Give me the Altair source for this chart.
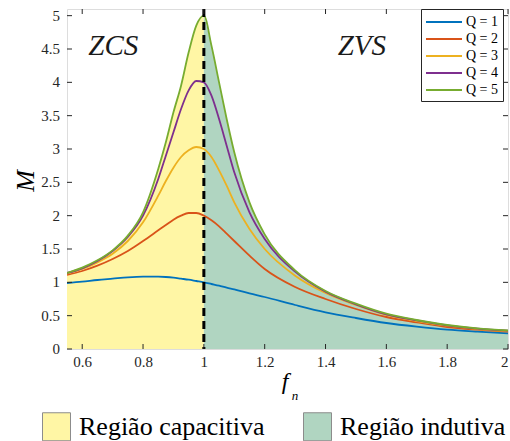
import altair as alt
import pandas as pd

# Normalised switching frequency and voltage gain read for each quality factor
fn = [0.55, 0.6, 0.65, 0.7, 0.75, 0.8, 0.85, 0.875, 0.9, 0.925, 0.95, 0.975, 1.0,
      1.025, 1.05, 1.075, 1.1, 1.15, 1.2, 1.3, 1.4, 1.5, 1.6, 1.7, 1.8, 1.9, 2.0]
m_q1 = [0.99, 1.01, 1.035, 1.055, 1.075, 1.085, 1.085, 1.08, 1.07, 1.055, 1.04, 1.02, 1.0,
        0.975, 0.95, 0.92, 0.895, 0.835, 0.78, 0.66, 0.55, 0.465, 0.39, 0.335, 0.29, 0.26, 0.235]
m_q2 = [1.11, 1.17, 1.25, 1.35, 1.47, 1.62, 1.78, 1.86, 1.94, 2.0, 2.04, 2.04, 2.0,
        1.93, 1.84, 1.73, 1.62, 1.4, 1.2, 0.93, 0.75, 0.6, 0.48, 0.4, 0.33, 0.29, 0.26]
m_q3 = [1.13, 1.2, 1.3, 1.43, 1.62, 1.9, 2.3, 2.52, 2.72, 2.88, 2.98, 3.03, 3.0,
        2.88, 2.68, 2.45, 2.2, 1.8, 1.5, 1.1, 0.84, 0.66, 0.51, 0.42, 0.35, 0.3, 0.27]
m_q4 = [1.14, 1.21, 1.32, 1.47, 1.68, 2.0, 2.55, 2.9, 3.25, 3.6, 3.88, 4.02, 4.0,
        3.8, 3.45, 3.05, 2.65, 2.05, 1.65, 1.16, 0.86, 0.67, 0.52, 0.43, 0.355, 0.305, 0.275]
m_q5 = [1.14, 1.22, 1.33, 1.48, 1.7, 2.05, 2.7, 3.1, 3.55, 3.95, 4.45, 4.85, 5.0,
        4.55, 4.0, 3.45, 2.95, 2.2, 1.72, 1.18, 0.87, 0.68, 0.53, 0.435, 0.36, 0.31, 0.28]

q_labels = ["Q = 1", "Q = 2", "Q = 3", "Q = 4", "Q = 5"]
q_colors = ["#0072BD", "#D95319", "#EDB120", "#7E2F8E", "#77AC30"]
region_labels = ["Região capacitiva", "Região indutiva"]
region_colors = ["#FFF6A5", "#B0D5C1"]
x_ticks = [0.6, 0.8, 1.0, 1.2, 1.4, 1.6, 1.8, 2.0]
y_ticks = [0, 0.5, 1, 1.5, 2, 2.5, 3, 3.5, 4, 4.5, 5]
y_tick_text = ["0", "0.5", "1", "1.5", "2", "2.5", "3", "3.5", "4", "4.5", "5"]
resonance = [1.0]

W, H = 441, 340
SERIF = "Liberation Serif"
INK = "#262626"

# Long table of the five gain curves
rows = []
for label, series in zip(q_labels, [m_q1, m_q2, m_q3, m_q4, m_q5]):
    for f, m in zip(fn, series):
        rows.append({"fn": f, "M": m, "serie": label})
curves = pd.DataFrame(rows)

# Shaded regions under the envelope (highest Q curve), split at resonance
area_rows = []
for f, m in zip(fn, m_q5):
    if f <= 1.0:
        area_rows.append({"fn": f, "M": m, "regiao": region_labels[0]})
    if f >= 1.0:
        area_rows.append({"fn": f, "M": m, "regiao": region_labels[1]})
regions = pd.DataFrame(area_rows)

x_scale = alt.Scale(domain=[0.55, 2.0], nice=False, zero=False)
y_scale = alt.Scale(domain=[0, 5.1], nice=False, zero=False)

x_axis = alt.Axis(values=x_ticks, labelExpr="'' + datum.value", title=None, grid=False,
                  domain=False, ticks=False, labelFont=SERIF, labelFontSize=15,
                  labelColor=INK, labelPadding=5, labelOverlap=False)
y_axis = alt.Axis(values=y_ticks, title=None, grid=False, domain=False, ticks=False,
                  labels=False)

area = alt.Chart(regions).mark_area(interpolate="monotone", clip=True).encode(
    x=alt.X("fn:Q", scale=x_scale, axis=x_axis),
    y=alt.Y("M:Q", scale=y_scale, axis=y_axis, stack=None),
    fill=alt.Fill("regiao:N", scale=alt.Scale(domain=region_labels, range=region_colors),
                  legend=alt.Legend(title=None, orient="none", direction="horizontal",
                                    legendX=-25, legendY=403, symbolType="square",
                                    symbolSize=784, symbolStrokeColor="#8c8c8c",
                                    symbolStrokeWidth=1, symbolOpacity=1,
                                    labelFont=SERIF, labelFontSize=26,
                                    labelColor="black", labelOffset=8, columnPadding=36,
                                    labelLimit=400, padding=0)),
)

lines = alt.Chart(curves).mark_line(interpolate="monotone", strokeWidth=1.8, clip=True).encode(
    x=alt.X("fn:Q", scale=x_scale),
    y=alt.Y("M:Q", scale=y_scale),
    color=alt.Color("serie:N", scale=alt.Scale(domain=q_labels, range=q_colors),
                    legend=alt.Legend(title=None, orient="none", legendX=354, legendY=0,
                                      symbolType="M-1,0H3.5", symbolSize=256,
                                      symbolStrokeWidth=2, labelFont=SERIF,
                                      labelFontSize=14, labelColor="black",
                                      labelOffset=23, rowPadding=1, padding=4,
                                      strokeColor=INK, fillColor="white")),
)

divider = alt.Chart(pd.DataFrame({"fn": resonance})).mark_rule(
    color="black", strokeWidth=3, strokeDash=[8, 5]
).encode(x=alt.X("fn:Q", scale=x_scale))

# Inward ticks on all four sides of the box
xt = pd.DataFrame({"fn": x_ticks})
yt = pd.DataFrame({"M": y_ticks, "txt": y_tick_text})
tick_style = dict(color=INK, strokeWidth=1)
x_ticks_bottom = alt.Chart(xt).mark_rule(**tick_style).encode(
    x=alt.X("fn:Q", scale=x_scale), y=alt.value(H), y2=alt.value(H - 5))
x_ticks_top = alt.Chart(xt).mark_rule(**tick_style).encode(
    x=alt.X("fn:Q", scale=x_scale), y=alt.value(0), y2=alt.value(5))
y_ticks_left = alt.Chart(yt).mark_rule(**tick_style).encode(
    y=alt.Y("M:Q", scale=y_scale), x=alt.value(0), x2=alt.value(5))
y_ticks_right = alt.Chart(yt).mark_rule(**tick_style).encode(
    y=alt.Y("M:Q", scale=y_scale), x=alt.value(W), x2=alt.value(W - 5))
y_labels = alt.Chart(yt).mark_text(
    font=SERIF, fontSize=15, align="right", baseline="middle", color=INK
).encode(y=alt.Y("M:Q", scale=y_scale), x=alt.value(-7), text="txt:N")

# Region annotations
notes = pd.DataFrame({"fn": [0.62, 1.44], "M": [4.41, 4.41], "txt": ["ZCS", "ZVS"]})
annot = alt.Chart(notes).mark_text(
    font=SERIF, fontSize=29, fontStyle="italic", align="left", baseline="alphabetic",
    color="#1a1a1a"
).encode(x=alt.X("fn:Q", scale=x_scale), y=alt.Y("M:Q", scale=y_scale), text="txt:N")

# Axis titles: italic M, and f with subscript n
y_title = alt.Chart(pd.DataFrame({"t": ["M"]})).mark_text(
    font=SERIF, fontSize=26, fontStyle="italic", angle=270, align="center",
    baseline="alphabetic", color="black"
).encode(x=alt.value(-33), y=alt.value(H / 2 + 2), text="t:N")
x_title = alt.Chart(pd.DataFrame({"t": ["f"]})).mark_text(
    font=SERIF, fontSize=24, fontStyle="italic", align="center", baseline="alphabetic",
    color="black"
).encode(x=alt.value(218), y=alt.value(380), text="t:N")
x_sub = alt.Chart(pd.DataFrame({"t": ["n"]})).mark_text(
    font=SERIF, fontSize=13, fontStyle="italic", align="center",
    baseline="alphabetic", color="black"
).encode(x=alt.value(228), y=alt.value(391), text="t:N")

chart = alt.layer(
    area, lines, divider, x_ticks_bottom, x_ticks_top, y_ticks_left, y_ticks_right,
    y_labels, annot, y_title, x_title, x_sub
).properties(
    width=W, height=H,
    autosize=alt.AutoSizeParams(type="none"),
    padding={"left": 67, "top": 9, "right": 2, "bottom": 92},
).configure_view(
    stroke=INK, strokeWidth=1
).configure(background="white")

chart.save("out.html", embed_options={"renderer": "svg", "actions": False})
